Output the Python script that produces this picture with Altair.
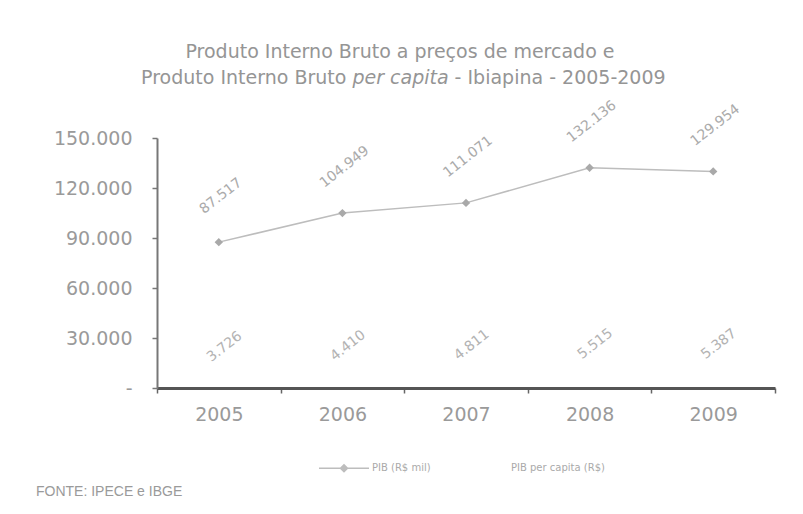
import altair as alt
import pandas as pd

# ---- data ----
years = ["2005", "2006", "2007", "2008", "2009"]
pib = [87517, 104949, 111071, 132136, 129954]          # PIB (R$ mil)
pib_pc = [3726, 4410, 4811, 5515, 5387]                # PIB per capita (R$)
series = ["PIB (R$ mil)", "PIB per capita (R$)"]
y_ticks = [0, 30000, 60000, 90000, 120000, 150000]
title_line1 = "Produto Interno Bruto a preços de mercado e"
title_line2 = ["Produto Interno Bruto", "per capita", "- Ibiapina - 2005-2009"]
source_note = "FONTE: IPECE e IBGE"

rows = []
for i, yr in enumerate(years):
    rows.append({"ano": yr, "serie": series[0], "valor": pib[i]})
    rows.append({"ano": yr, "serie": series[1], "valor": pib_pc[i]})
df = pd.DataFrame(rows)

FONT = "DejaVu Sans"
TXT = "#9a9a9a"
W, H = 618, 250

x_enc = alt.X(
    "ano:O",
    title=None,
    scale=alt.Scale(type="band", paddingInner=0, paddingOuter=0),
    axis=alt.Axis(
        labelAngle=0, tickBand="extent", grid=False,
        domainColor="#555555", domainWidth=3,
        tickColor="#666666", tickSize=5, tickWidth=1.5,
        labelFont=FONT, labelFontSize=19, labelColor=TXT, labelPadding=12,
    ),
)
y_enc = alt.Y(
    "valor:Q",
    title=None,
    scale=alt.Scale(domain=[0, 150000], nice=False, zero=True),
    axis=alt.Axis(
        values=y_ticks, grid=False,
        labelExpr="datum.value == 0 ? '-' : replace(datum.label, ',', '.')",
        domainColor="#777777", domainWidth=2,
        tickColor="#777777", tickSize=5, tickWidth=1.5,
        labelFont=FONT, labelFontSize=19, labelColor=TXT, labelPadding=20,
    ),
)

base = alt.Chart(df).transform_calculate(
    rotulo="replace(format(datum.valor, ','), ',', '.')"
)

legend_path = "M-1,0H1M0,-0.14L0.14,0L0,0.14L-0.14,0ZM0,-0.07L0.07,0L0,0.07L-0.07,0Z"

lines = base.mark_line(strokeWidth=1.5).encode(
    x=x_enc,
    y=y_enc,
    color=alt.Color(
        "serie:N",
        scale=alt.Scale(domain=series, range=["#bdbdbd", "#ffffff"]),
        legend=alt.Legend(
            title=None, orient="none", legendX=161, legendY=304,
            direction="horizontal", symbolType=legend_path, symbolSize=2500,
            symbolStrokeWidth=1.5, labelFont=FONT, labelFontSize=10,
            labelColor="#aaaaaa", columnPadding=24, labelOffset=2, padding=0,
        ),
    ),
)

points = base.transform_filter(alt.datum.serie == series[0]).mark_point(
    shape="diamond", size=70, filled=True, color="#a9a9a9", opacity=1
).encode(x="ano:O", y="valor:Q")

# dx/dy are applied in the rotated frame of the text
labels_pib = base.transform_filter(alt.datum.serie == series[0]).mark_text(
    angle=322, dx=30, dy=-35, font=FONT, fontSize=14, color="#ababab"
).encode(x="ano:O", y="valor:Q", text="rotulo:N")

labels_pc = base.transform_filter(alt.datum.serie == series[1]).mark_text(
    angle=322, dx=26, dy=-24, font=FONT, fontSize=14, color="#b3b3b3"
).encode(x="ano:O", y="valor:Q", text="rotulo:N")

def note(text, xpos, ypos, align="center", size=19, style="normal", font=FONT, color="#959595"):
    return alt.Chart(pd.DataFrame({"t": [text]})).mark_text(
        align=align, baseline="middle", font=font, fontSize=size,
        fontStyle=style, color=color,
    ).encode(text="t:N", x=alt.value(xpos), y=alt.value(ypos))

t1 = note(title_line1, 243, -86)
t2a = note(title_line2[0], 189.4, -60, align="right")
t2b = note(title_line2[1], 195.5, -60, align="left", style="italic")
t2c = note(title_line2[2], 297.6, -60, align="left")
src = note(source_note, -121, 354, align="left", size=14, font="Liberation Sans", color="#9a9a9a")

chart = alt.layer(
    lines, points, labels_pib, labels_pc, t1, t2a, t2b, t2c, src
).properties(
    width=W, height=H,
    autosize=alt.AutoSizeParams(type="none"),
    padding={"left": 149, "top": 130, "right": 18, "bottom": 110},
    background="white",
).configure_view(stroke=None)

chart.save("out.html", embed_options={"renderer": "svg", "actions": False})
